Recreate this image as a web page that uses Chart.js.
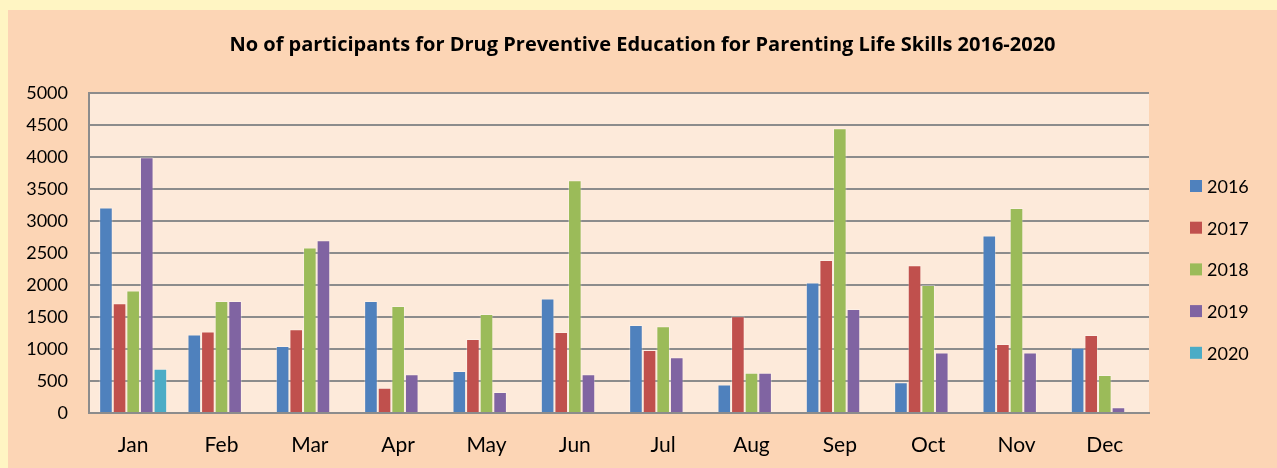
<!DOCTYPE html>
<html>
<head>
<meta charset="utf-8">
<script src="https://cdn.jsdelivr.net/npm/chart.js@4"></script>
<style>
  html, body { margin: 0; padding: 0; background: #fff5c3; overflow: hidden; }
  #wrap { position: absolute; left: 8px; top: 10px; width: 1269px; height: 458px; }
</style>
</head>
<body>
<div id="wrap"><canvas id="drugChart" aria-label="No of participants for Drug Preventive Education for Parenting Life Skills 2016-2020" role="img"></canvas></div>
<script>
const months = ["Jan", "Feb", "Mar", "Apr", "May", "Jun", "Jul", "Aug", "Sep", "Oct", "Nov", "Dec"];
const years = ["2016", "2017", "2018", "2019", "2020"];
const yTicks = [0, 500, 1000, 1500, 2000, 2500, 3000, 3500, 4000, 4500, 5000];

const v2016 = [3210, 1225, 1045, 1750, 655, 1790, 1375, 445, 2040, 480, 2775, 1020];
const v2017 = [1715, 1275, 1310, 395, 1155, 1265, 985, 1510, 2390, 2310, 1080, 1220];
const v2018 = [1915, 1750, 2585, 1670, 1545, 3635, 1355, 630, 4450, 2000, 3205, 595];
const v2019 = [3995, 1750, 2700, 605, 330, 605, 870, 630, 1625, 945, 945, 90];
const v2020 = [690, null, null, null, null, null, null, null, null, null, null, null];

const colors = ["#4f81bd", "#c0504d", "#9bbb59", "#8064a2", "#4bacc6"];

const bgPlugin = {
  id: "bg",
  beforeDraw(chart) {
    const { ctx, chartArea } = chart;
    ctx.save();
    ctx.fillStyle = "#fcd5b5";
    ctx.fillRect(0, 0, chart.width, chart.height);
    ctx.fillStyle = "#fdeada";
    ctx.fillRect(chartArea.left, chartArea.top, chartArea.right - chartArea.left, chartArea.bottom - chartArea.top);
    ctx.restore();
  },
};

// legend on the right, laid out like the Excel one
const sideLegend = {
  id: "sideLegend",
  afterDraw(chart) {
    const ctx = chart.ctx;
    ctx.save();
    ctx.font = "18px Lato";
    ctx.textBaseline = "middle";
    ctx.textAlign = "left";
    chart.data.datasets.forEach((ds, i) => {
      const cy = 176 + i * 41.7;
      ctx.fillStyle = ds.backgroundColor;
      ctx.fillRect(1182, cy - 6, 12, 12);
      ctx.fillStyle = "#000";
      ctx.fillText(ds.label, 1199, cy + 1);
    });
    ctx.restore();
  },
};

const series = [v2016, v2017, v2018, v2019, v2020];

const ctx = document.getElementById("drugChart").getContext("2d");
new Chart(ctx, {
  type: "bar",
  data: {
    labels: months,
    datasets: series.map((vals, i) => ({
      label: years[i],
      data: vals,
      backgroundColor: colors[i],
      borderColor: "rgba(255,255,255,0.3)",
      borderWidth: 1,
      categoryPercentage: 0.77,
      barPercentage: 1.0,
    })),
  },
  options: {
    responsive: true,
    maintainAspectRatio: false,
    animation: false,
    layout: { padding: 0 },
    plugins: {
      legend: { display: false },
      tooltip: { enabled: false },
      title: {
        display: true,
        text: "No of participants for Drug Preventive Education for Parenting Life Skills 2016-2020",
        color: "#000",
        font: { family: "'Open Sans'", size: 20, weight: "bold" },
        padding: { top: 23, bottom: 36 },
      },
    },
    scales: {
      x: {
        grid: { display: false },
        border: { display: true, color: "#8c8c8c", width: 2 },
        ticks: {
          color: "#000",
          padding: 12,
          maxRotation: 0,
          font: { family: "Lato", size: 21 },
        },
        afterFit(scale) {
          scale.height = 55;
        },
      },
      y: {
        min: 0,
        max: 5000,
        afterBuildTicks(scale) {
          scale.ticks = yTicks.map((v) => ({ value: v }));
        },
        grid: { color: "#8c8c8c", lineWidth: 2, drawTicks: false },
        border: { display: true, color: "#8c8c8c", width: 2 },
        ticks: {
          color: "#000",
          padding: 21,
          font: { family: "Lato", size: 18 },
          callback: (v) => String(v),
        },
        afterFit(scale) {
          scale.width = 81;
        },
      },
      // empty axis that only keeps room for the legend
      spacer: {
        position: "right",
        min: 0,
        max: 5000,
        grid: { display: false },
        border: { display: false },
        ticks: { display: false },
        afterFit(scale) {
          scale.width = 128;
        },
      },
    },
  },
  plugins: [bgPlugin, sideLegend],
});
</script>
</body>
</html>
